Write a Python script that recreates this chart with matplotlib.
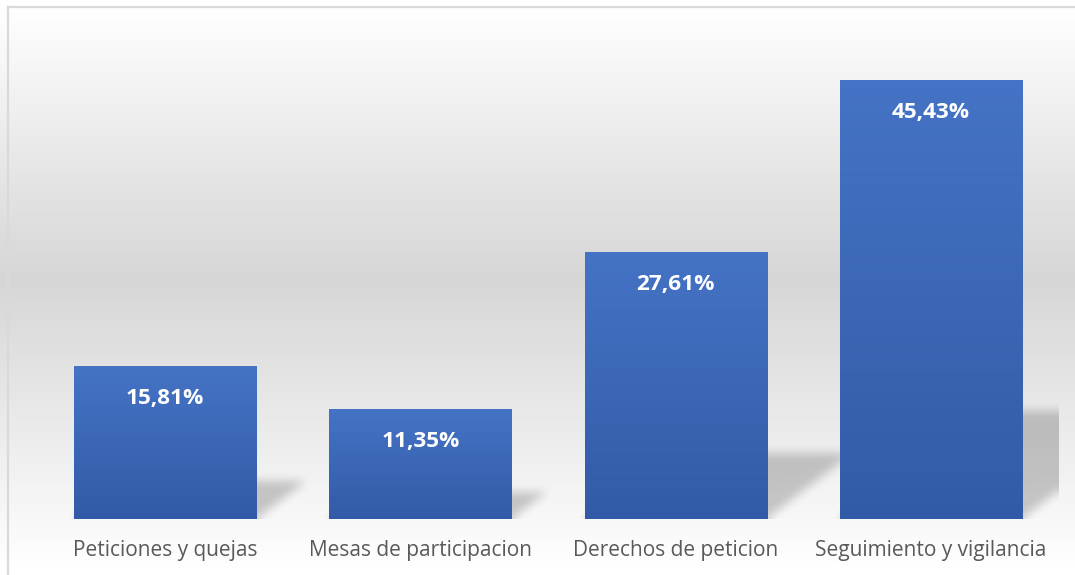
import numpy as np
import matplotlib
matplotlib.use("Agg")
import matplotlib.pyplot as plt
from matplotlib.lines import Line2D

categories = ["Peticiones y quejas", "Mesas de participacion",
              "Derechos de peticion", "Seguimiento y vigilancia"]
values = [15.81, 11.35, 27.61, 45.43]
value_labels = ["15,81%", "11,35%", "27,61%", "45,43%"]

W, H = 1075, 575
DPI = 100
fig = plt.figure(figsize=(W / DPI, H / DPI), dpi=DPI)

# ---- background vertical gradient (figure level) ----
bg_ax = fig.add_axes([0, 0, 1, 1], zorder=-5)
ys = np.arange(H)
y_top, y_mid, y_bot = 6.0, 278.0, 568.0
g = np.where(ys < y_mid,
             255 - (np.clip(ys - y_top, 0, None) / (y_mid - y_top)) * 41,
             255 - (np.clip(y_bot - ys, 0, None) / (y_bot - y_mid)) * 41)
g = np.clip(g, 214, 255) / 255.0
bg = np.repeat(g[:, None], 4, axis=1)[:, :, None].repeat(3, axis=2)
bg_ax.imshow(bg, extent=[0, 1, 0, 1], aspect="auto", origin="upper")
bg_ax.set_xlim(0, 1)
bg_ax.set_ylim(0, 1)
bg_ax.axis("off")
# border (left + top)
bg_ax.add_line(Line2D([7.5 / W, 7.5 / W], [0, 1 - 6.5 / H], color="#d9d9d9", lw=1.6))
bg_ax.add_line(Line2D([7.5 / W, 1], [1 - 6.5 / H, 1 - 6.5 / H], color="#d9d9d9", lw=1.6))

# ---- main axes ----
left_px, right_px, top_px, bot_px = 37.5, 1058.5, 36.0, 519.0
ax = fig.add_axes([left_px / W, 1 - bot_px / H, (right_px - left_px) / W,
                   (bot_px - top_px) / H])
ax.set_facecolor("none")
YMAX = 50.0
XMIN, XMAX = -0.5, len(categories) - 0.5
x = np.arange(len(categories))
bw = 0.714

# ---- shadows ----
nx, ny = int(right_px - left_px), int(bot_px - top_px)
gx = np.linspace(XMIN, XMAX, nx)
gy = np.linspace(0, YMAX, ny)
GX, GY = np.meshgrid(gx, gy)
mask = np.zeros_like(GX)
px_per_x = (right_px - left_px) / (XMAX - XMIN)
px_per_y = (bot_px - top_px) / YMAX
for xi, v in zip(x, values):
    h = 0.245 * v
    dx = 1.3 * h * px_per_y / px_per_x
    x0, x1 = xi - bw / 2, xi + bw / 2
    shift = dx * GY / h
    inside = (GY <= h) & (GX >= x0 + shift) & (GX <= x1 + shift)
    mask[inside] = 1.0


def box_blur(a, r, axis):
    pad = [(0, 0), (0, 0)]
    pad[axis] = (r + 1, r)
    ap = np.pad(a, pad, mode="edge")
    c = np.cumsum(ap, axis=axis)
    if axis == 0:
        return (c[2 * r + 1:, :] - c[:-2 * r - 1, :]) / (2 * r + 1)
    return (c[:, 2 * r + 1:] - c[:, :-2 * r - 1]) / (2 * r + 1)


m = mask
for _ in range(3):
    m = box_blur(m, 4, 0)
    m = box_blur(m, 4, 1)
sh = np.zeros((ny, nx, 4))
sh[..., 3] = m * 0.2
ax.imshow(sh, extent=[XMIN, XMAX, 0, YMAX], origin="lower", aspect="auto",
          zorder=1, interpolation="bilinear")

# ---- bars with per-bar gradient ----
bars = ax.bar(x, values, width=bw, color="#3d69b8", zorder=2, linewidth=0)
top_c = np.array([0x45, 0x73, 0xC5]) / 255.0
bot_c = np.array([0x32, 0x5B, 0xA7]) / 255.0
t = np.linspace(0, 1, 256)[:, None]
grad = (top_c[None, :] * (1 - t) + bot_c[None, :] * t)[:, None, :]
for b in bars:
    im = ax.imshow(grad, extent=[b.get_x(), b.get_x() + b.get_width(), 0, b.get_height()],
                   origin="upper", aspect="auto", zorder=3)
    im.set_clip_path(b)

# value labels
for xi, v, lab in zip(x, values, value_labels):
    ax.annotate(lab, (xi, v), xytext=(0, -37.5), textcoords="offset pixels",
                ha="center", va="baseline", color="white", fontsize=16.2,
                fontweight="bold", family="Open Sans", zorder=5)

# category labels
for xi, cat in zip(x, categories):
    ax.annotate(cat, (xi, 0), xytext=(0, -37), textcoords="offset pixels",
                ha="center", va="baseline", color="#595959", fontsize=15,
                family="Open Sans", annotation_clip=False)

ax.set_xlim(XMIN, XMAX)
ax.set_ylim(0, YMAX)
ax.set_xticks([])
ax.set_yticks([])
for s in ax.spines.values():
    s.set_visible(False)

fig.savefig("out.png", dpi=DPI)
